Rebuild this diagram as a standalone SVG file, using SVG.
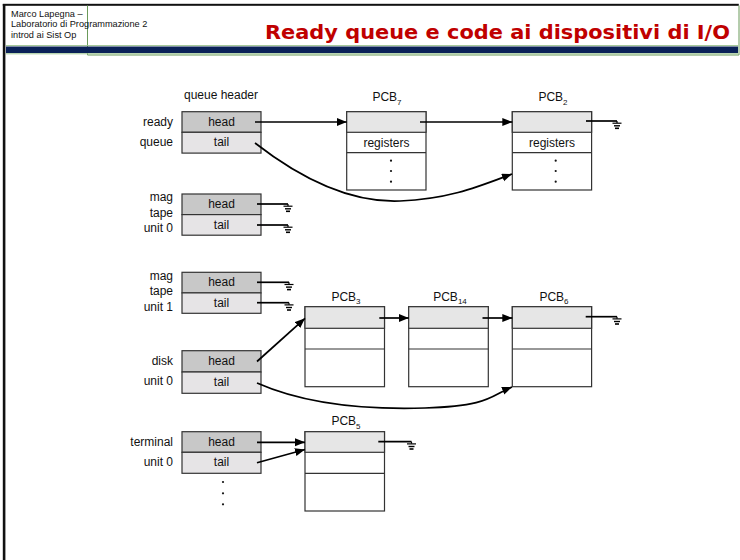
<svg xmlns="http://www.w3.org/2000/svg" width="740" height="560" viewBox="0 0 740 560">
  <defs>
    <marker id="arrow" markerUnits="userSpaceOnUse" markerWidth="11" markerHeight="9" refX="10" refY="4" orient="auto">
      <path d="M0,0 L10,4 L0,8 z" fill="#000"/>
    </marker>
    <!-- ground (null pointer) symbol, origin at the end of the wire -->
    <g id="gnd" fill="none" stroke="#000">
      <path d="M0,0 V2" stroke-width="1.2"/>
      <path d="M-4.5,2.2 H4.5" stroke-width="1.2"/>
      <path d="M-3,4.8 H3" stroke-width="1.4"/>
      <path d="M-2,7.3 H2" stroke-width="1.6"/>
    </g>
  </defs>
  <style>
    .hdr { font-family: "Liberation Sans", Arial, sans-serif; font-size: 9.2px; fill: #111; }
    .title { font-family: "DejaVu Sans", Verdana, sans-serif; font-weight: bold; font-size: 20px; fill: #c00000; }
    .lbl { font-family: "Liberation Sans", Arial, sans-serif; font-size: 12px; fill: #111; }
    .lr { text-anchor: end; }
    .mid { text-anchor: middle; }
    .sub { font-size: 8px; }
    .head { fill: #c8c8c8; stroke: #333; stroke-width: 1.2; }
    .tail { fill: #e6e4e6; stroke: #333; stroke-width: 1.2; }
    .pcbtop { fill: #e6e6e6; stroke: #333; stroke-width: 1.2; }
    .pcb { fill: #fff; stroke: #333; stroke-width: 1.2; }
    .wire { fill: none; stroke: #000; stroke-width: 1.7; }
    .arr { fill: none; stroke: #000; stroke-width: 1.7; marker-end: url(#arrow); }
    .dot { fill: #111; }
  </style>

  <!-- page frame and header band -->
  <rect x="0" y="0" width="740" height="560" fill="#fff"/>
  <rect x="2.8" y="4" width="2.6" height="556" fill="#111"/>
  <rect x="2.8" y="3.8" width="736" height="2" fill="#111"/>
  <path d="M87.5,5.5 V55 H739 V5.5" fill="none" stroke="#6a9a5a" stroke-width="1"/>
  <line x1="6" y1="45.6" x2="738" y2="45.6" stroke="#9cc490" stroke-width="1"/>
  <rect x="6" y="46.5" width="732" height="6.5" fill="#0a2158"/>
  <line x1="6" y1="53.8" x2="738" y2="53.8" stroke="#9cc490" stroke-width="1"/>

  <text class="hdr" x="11" y="16.5">Marco Lapegna –</text>
  <text class="hdr" x="11" y="27.3">Laboratorio di Programmazione 2</text>
  <text class="hdr" x="11" y="37.8">introd ai Sist Op</text>
  <text class="title" x="265" y="38.5" textLength="465" lengthAdjust="spacingAndGlyphs">Ready queue e code ai dispositivi di I/O</text>

  <text class="lbl mid" x="221" y="98.5">queue header</text>

  <!-- queue headers -->
  <g id="ready-queue">
    <text class="lbl lr" x="173" y="125.5">ready</text>
    <text class="lbl lr" x="173" y="146">queue</text>
    <rect class="head" x="182" y="111.7" width="79" height="20.6"/>
    <rect class="tail" x="182" y="132.3" width="79" height="20.8"/>
    <text class="lbl mid" x="221.5" y="125.5">head</text>
    <text class="lbl mid" x="221.5" y="146">tail</text>
  </g>

  <g id="mag-tape-0">
    <text class="lbl lr" x="173" y="201">mag</text>
    <text class="lbl lr" x="173" y="216.5">tape</text>
    <text class="lbl lr" x="173" y="232">unit 0</text>
    <rect class="head" x="182" y="194" width="79" height="20.6"/>
    <rect class="tail" x="182" y="214.6" width="79" height="20.6"/>
    <text class="lbl mid" x="221.5" y="208">head</text>
    <text class="lbl mid" x="221.5" y="228.5">tail</text>
  </g>

  <g id="mag-tape-1">
    <text class="lbl lr" x="173" y="279.5">mag</text>
    <text class="lbl lr" x="173" y="295">tape</text>
    <text class="lbl lr" x="173" y="310.5">unit 1</text>
    <rect class="head" x="182" y="272.3" width="79" height="20.6"/>
    <rect class="tail" x="182" y="292.9" width="79" height="20.4"/>
    <text class="lbl mid" x="221.5" y="286">head</text>
    <text class="lbl mid" x="221.5" y="306.5">tail</text>
  </g>

  <g id="disk-0">
    <text class="lbl lr" x="173" y="364.5">disk</text>
    <text class="lbl lr" x="173" y="385">unit 0</text>
    <rect class="head" x="182" y="350.7" width="79" height="21.3"/>
    <rect class="tail" x="182" y="372" width="79" height="21.3"/>
    <text class="lbl mid" x="221.5" y="365">head</text>
    <text class="lbl mid" x="221.5" y="386">tail</text>
  </g>

  <g id="terminal-0">
    <text class="lbl lr" x="173" y="446">terminal</text>
    <text class="lbl lr" x="173" y="466">unit 0</text>
    <rect class="head" x="182" y="431.7" width="79" height="20.6"/>
    <rect class="tail" x="182" y="452.3" width="79" height="21"/>
    <text class="lbl mid" x="221.5" y="445.5">head</text>
    <text class="lbl mid" x="221.5" y="466">tail</text>
    <circle class="dot" cx="223" cy="482" r="1.1"/>
    <circle class="dot" cx="223" cy="493.3" r="1.1"/>
    <circle class="dot" cx="223" cy="504.3" r="1.1"/>
  </g>

  <!-- process control blocks -->
  <g id="pcb7">
    <text class="lbl mid" x="387" y="101">PCB<tspan class="sub" dy="3.5">7</tspan></text>
    <rect class="pcb" x="346.7" y="111.7" width="79.3" height="78.3"/>
    <rect class="pcbtop" x="346.7" y="111.7" width="79.3" height="20.6"/>
    <line x1="346.7" y1="152.7" x2="426" y2="152.7" stroke="#333" stroke-width="1.2"/>
    <text class="lbl mid" x="386.4" y="146.5">registers</text>
    <circle class="dot" cx="391" cy="160.7" r="1.1"/>
    <circle class="dot" cx="391" cy="171" r="1.1"/>
    <circle class="dot" cx="391" cy="181.7" r="1.1"/>
  </g>

  <g id="pcb2">
    <text class="lbl mid" x="553" y="101">PCB<tspan class="sub" dy="3.5">2</tspan></text>
    <rect class="pcb" x="512.3" y="111.7" width="79.3" height="78.3"/>
    <rect class="pcbtop" x="512.3" y="111.7" width="79.3" height="20.6"/>
    <line x1="512.3" y1="152.7" x2="591.6" y2="152.7" stroke="#333" stroke-width="1.2"/>
    <text class="lbl mid" x="552" y="146.5">registers</text>
    <circle class="dot" cx="555.7" cy="160.7" r="1.1"/>
    <circle class="dot" cx="555.7" cy="171" r="1.1"/>
    <circle class="dot" cx="555.7" cy="181.7" r="1.1"/>
  </g>

  <g id="pcb3">
    <text class="lbl mid" x="346" y="300.5">PCB<tspan class="sub" dy="3.5">3</tspan></text>
    <rect class="pcb" x="305" y="306.7" width="79.5" height="80"/>
    <rect class="pcbtop" x="305" y="306.7" width="79.5" height="21.6"/>
    <line x1="305" y1="349" x2="384.5" y2="349" stroke="#333" stroke-width="1.2"/>
  </g>

  <g id="pcb14">
    <text class="lbl mid" x="450" y="300.5">PCB<tspan class="sub" dy="3.5">14</tspan></text>
    <rect class="pcb" x="408.7" y="306.7" width="79.6" height="80"/>
    <rect class="pcbtop" x="408.7" y="306.7" width="79.6" height="21.6"/>
    <line x1="408.7" y1="349" x2="488.3" y2="349" stroke="#333" stroke-width="1.2"/>
  </g>

  <g id="pcb6">
    <text class="lbl mid" x="554" y="300.5">PCB<tspan class="sub" dy="3.5">6</tspan></text>
    <rect class="pcb" x="512.3" y="306.7" width="79.3" height="80"/>
    <rect class="pcbtop" x="512.3" y="306.7" width="79.3" height="21.6"/>
    <line x1="512.3" y1="349" x2="591.6" y2="349" stroke="#333" stroke-width="1.2"/>
  </g>

  <g id="pcb5">
    <text class="lbl mid" x="346" y="425">PCB<tspan class="sub" dy="3.5">5</tspan></text>
    <rect class="pcb" x="305" y="431.7" width="79.5" height="79.3"/>
    <rect class="pcbtop" x="305" y="431.7" width="79.5" height="20.6"/>
    <line x1="305" y1="473.3" x2="384.5" y2="473.3" stroke="#333" stroke-width="1.2"/>
  </g>

  <!-- links between headers and PCBs -->
  <g id="connectors">
    <!-- ready queue -->
    <line class="arr" x1="255" y1="122" x2="346.7" y2="122"/>
    <line class="arr" x1="420" y1="122" x2="512.3" y2="122"/>
    <path class="arr" d="M255,143 C300,178 350,203 400,201 S480,186 512,174"/>
    <line class="wire" x1="586" y1="121" x2="617" y2="121"/>
    <use href="#gnd" x="617" y="121"/>

    <!-- mag tape unit 0 -->
    <line class="wire" x1="257" y1="204" x2="288" y2="204"/>
    <use href="#gnd" x="288" y="204"/>
    <line class="wire" x1="257" y1="225" x2="288" y2="225"/>
    <use href="#gnd" x="288" y="225"/>

    <!-- mag tape unit 1 -->
    <line class="wire" x1="257" y1="282.3" x2="289" y2="282.3"/>
    <use href="#gnd" x="289" y="282.3"/>
    <line class="wire" x1="257" y1="302.7" x2="289" y2="302.7"/>
    <use href="#gnd" x="289" y="302.7"/>

    <!-- disk unit 0 -->
    <line class="arr" x1="257" y1="361.5" x2="305" y2="318.3"/>
    <line class="arr" x1="379.3" y1="318" x2="408.7" y2="318"/>
    <line class="arr" x1="482.5" y1="318" x2="512.3" y2="318"/>
    <line class="wire" x1="585.7" y1="316.7" x2="617" y2="316.7"/>
    <use href="#gnd" x="617" y="316.7"/>
    <path class="arr" d="M257,383 C300,402 360,410 425,408 S490,396 512,387"/>

    <!-- terminal unit 0 -->
    <line class="arr" x1="257" y1="442.3" x2="305" y2="442.3"/>
    <line class="arr" x1="257" y1="462.7" x2="305" y2="449.5"/>
    <line class="wire" x1="378.3" y1="441.7" x2="411.5" y2="441.7"/>
    <use href="#gnd" x="411.5" y="441.7"/>
  </g>
</svg>
